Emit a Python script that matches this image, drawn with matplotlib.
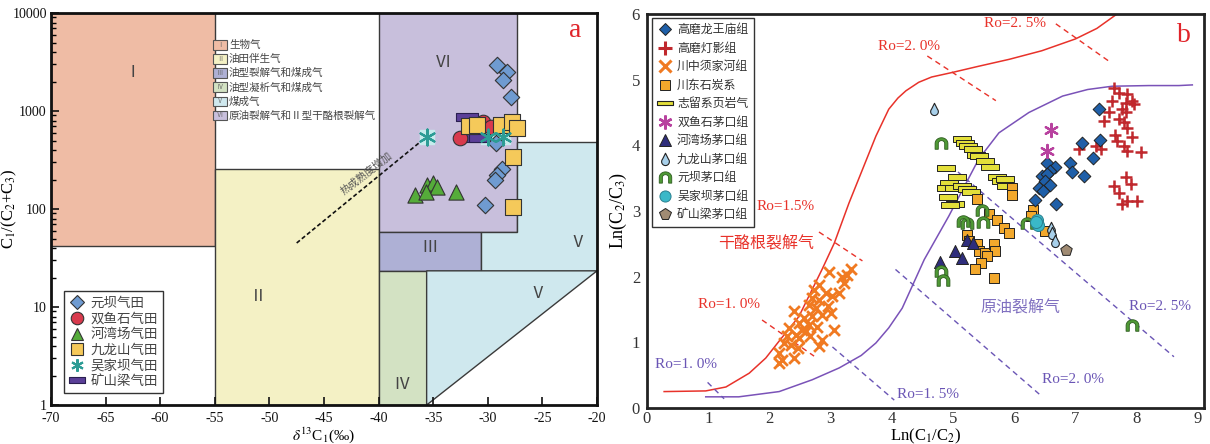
import numpy as np
import matplotlib
matplotlib.use('Agg')
import matplotlib.pyplot as plt
from matplotlib.patches import Polygon, Rectangle
from matplotlib.path import Path
from matplotlib.lines import Line2D

plt.rcParams['font.family'] = ['Liberation Serif', 'Noto Sans CJK SC', 'DejaVu Sans']
plt.rcParams['mathtext.fontset'] = 'stix'

# ---------------- Panel a data ----------------
xa_ticks = [-70, -65, -60, -55, -50, -45, -40, -35, -30, -25, -20]
ya_ticks = [1, 10, 100, 1000, 10000]

yb_x = [-29.2, -28.27, -28.6, -27.9, -29.25, -28.73, -29.13, -29.34, -30.26]
yb_y = [2945, 2518, 2072, 1400, 471, 254, 222, 198, 110]
sys_x = [-30.47, -32.55, -29.7]
sys_y = [778, 530, 692]
hwc_x = [-36.67, -35.6, -35.0, -34.68, -32.9, -35.66]
hwc_y = [139, 176, 183, 169, 150, 150]
jls_x = [-31.7, -30.96, -28.82, -27.8, -27.35, -27.72, -27.72]
jls_y = [703, 719, 719, 778, 676, 337, 105]
wjb_x = [-35.6, -29.95, -28.58]
wjb_y = [547, 540, 540]
ksl_x = [-31.93, -31.3, -30.7]
ksl_y = [862, 526, 526]

# region boundaries (x: d13C1, y: C1/(C2+C3))
reg_I = [(-70, 42), (-55, 42), (-55, 10000), (-70, 10000)]
reg_II = [(-55, 1), (-40, 1), (-40, 255), (-55, 255)]
reg_VI = [(-40, 58), (-27.3, 58), (-27.3, 10000), (-40, 10000)]
reg_III = [(-40, 23.4), (-30.6, 23.4), (-30.6, 58), (-40, 58)]
reg_IV = [(-40, 1), (-35.6, 1), (-35.6, 23.4), (-40, 23.4)]
reg_V1 = [(-30.6, 23.4), (-20, 23.4), (-20, 480), (-27.3, 480), (-27.3, 58), (-30.6, 58)]
reg_V2 = [(-35.6, 1), (-20, 23.4), (-35.6, 23.4)]
trend_x = [-47.5, -35.6]
trend_y = [45, 547]

region_names = ['Ⅰ', 'Ⅱ', 'Ⅲ', 'Ⅳ', 'Ⅴ', 'Ⅵ']
region_labels = ['生物气', '油田伴生气', '油型裂解气和煤成气', '油型凝析气和煤成气', '煤成气',
                 '原油裂解气和Ⅱ型干酪根裂解气']
region_colors = ['#efbca5', '#f4f1c5', '#aeb0d5', '#d3e2c3', '#cfe8ee', '#c8bfdc']

# ---------------- Panel b data ----------------
xb_ticks = [0, 1, 2, 3, 4, 5, 6, 7, 8, 9]
yb_ticks = [0, 1, 2, 3, 4, 5, 6]

red_cx = [0.28, 0.96, 1.29, 1.67, 1.94, 2.16, 2.48, 2.86, 3.06, 3.30, 3.52, 3.74, 3.95, 4.10, 4.23, 4.44, 4.65,
          4.99, 5.40, 5.92, 6.45, 7.0, 7.35, 7.68]
red_cy = [0.25, 0.26, 0.32, 0.53, 0.76, 1.02, 1.39, 2.11, 2.51, 3.12, 3.63, 4.14, 4.55, 4.72, 4.83, 4.96, 5.04,
          5.11, 5.20, 5.31, 5.44, 5.62, 5.78, 6.0]
pur_cx = [0.96, 1.5, 2.16, 2.70, 3.14, 3.50, 3.74, 3.95, 4.17, 4.53, 4.93, 5.20, 5.42, 5.75, 6.24, 6.79, 7.20, 7.6,
          8.2, 8.69, 8.91]
pur_cy = [0.17, 0.17, 0.25, 0.43, 0.61, 0.80, 0.99, 1.22, 1.52, 2.26, 2.92, 3.40, 3.79, 4.19, 4.50, 4.75, 4.85,
          4.90, 4.91, 4.91, 4.92]

red_ro = {'Ro=1. 0%': ([1.88, 2.73], [1.34, 0.79], (1.34, 1.57)),
          'Ro=1.5%': ([2.81, 3.52], [2.68, 2.24], (2.27, 3.07)),
          'Ro=2. 0%': ([4.58, 5.70], [5.36, 4.68], (4.28, 5.5)),
          'Ro=2. 5%': ([6.68, 7.58], [5.85, 5.26], (6.02, 5.85))}
pur_ro = {'Ro=1. 0%': ([0.99, 1.26], [0.39, 0.14], (0.63, 0.66)),
          'Ro=1. 5%': ([3.03, 4.04], [0.93, 0.12], (4.59, 0.2)),
          'Ro=2. 0%': ([4.06, 6.46], [2.11, 0.17], (6.96, 0.43)),
          'Ro=2. 5%': ([4.96, 8.61], [3.69, 0.78], (8.38, 1.55))}

lwm_x = [7.39, 7.11, 7.40, 7.29, 6.91, 6.94, 7.14, 6.54, 6.66, 6.59, 6.45, 6.54, 6.51, 6.58, 6.41, 6.47, 6.34, 6.68]
lwm_y = [4.55, 4.04, 4.08, 3.80, 3.73, 3.60, 3.54, 3.73, 3.67, 3.61, 3.53, 3.56, 3.46, 3.40, 3.35, 3.31, 3.17, 3.10]
dy_x = [7.63, 7.71, 7.85, 7.93, 7.60, 7.82, 7.96, 7.76, 7.55, 7.82, 7.47, 7.71, 7.79, 7.85, 7.65, 7.93, 7.68, 7.79,
        7.85, 8.07, 7.33, 7.41, 7.06, 7.82, 7.90, 7.63, 7.71, 7.85, 8.01, 7.76]
dy_y = [4.88, 4.80, 4.78, 4.68, 4.68, 4.65, 4.63, 4.55, 4.50, 4.50, 4.37, 4.40, 4.35, 4.27, 4.15, 4.12, 4.07, 3.99,
        3.92, 3.90, 3.99, 3.94, 3.95, 3.51, 3.41, 3.38, 3.28, 3.15, 3.15, 3.10]
xj_x = [3.34, 3.27, 3.19, 2.98, 3.22, 3.14, 3.03, 2.92, 2.81, 2.70, 2.65, 2.76, 2.95, 3.00, 2.86, 2.70, 2.57, 2.40,
        2.48, 2.65, 2.78, 3.05, 2.59, 2.43, 2.29, 2.48, 2.67, 2.86, 2.81, 2.24, 2.35, 2.46, 2.16, 2.40, 2.16, 2.53,
        2.32, 2.73, 2.81, 2.21]
xj_y = [2.11, 2.03, 2.00, 2.07, 1.90, 1.75, 1.70, 1.75, 1.65, 1.67, 1.57, 1.52, 1.55, 1.45, 1.42, 1.40, 1.37, 1.47,
        1.29, 1.27, 1.24, 1.19, 1.17, 1.11, 1.09, 1.06, 1.09, 1.04, 0.94, 0.99, 0.96, 0.91, 0.84, 0.76, 0.68, 1.19,
        1.22, 1.80, 1.88, 0.73]
cd_x = [5.96, 5.97, 5.40, 5.59, 5.72, 5.83, 5.92, 5.23, 5.40, 5.42, 5.53, 5.67, 5.69, 5.56, 5.45, 5.36, 5.67, 6.30,
        6.27, 6.50, 5.26]
cd_y = [3.35, 3.25, 3.18, 2.96, 2.87, 2.74, 2.67, 2.64, 2.49, 2.39, 2.36, 2.49, 2.39, 2.31, 2.21, 2.11, 1.98, 3.01,
        2.92, 2.69, 2.54]
zl_x = [5.14, 5.20, 5.25, 5.32, 5.38, 5.42, 5.52, 5.60, 4.88, 5.07, 4.93, 5.72, 5.78, 5.85, 5.86, 4.88, 5.02, 5.15,
        5.23, 5.29, 4.92, 5.03, 4.95]
zl_y = [4.09, 4.04, 3.99, 3.94, 3.86, 3.83, 3.76, 3.67, 3.66, 3.51, 3.42, 3.51, 3.46, 3.48, 3.38, 3.35, 3.35, 3.38,
        3.33, 3.29, 3.22, 3.11, 3.09]
sysm_x = [6.60, 6.53]
sysm_y = [4.24, 3.91]
hwcm_x = [4.79, 5.04, 5.14, 5.23, 5.33]
hwcm_y = [2.23, 2.39, 2.28, 2.56, 2.51]
jlsm_x = [4.69, 6.60, 6.62, 6.67]
jlsm_y = [4.55, 2.74, 2.67, 2.54]
ybm_x = [4.80, 5.23, 5.17, 5.48, 5.49, 6.21, 4.80, 4.84, 7.93]
ybm_y = [4.04, 2.82, 2.85, 3.02, 2.83, 2.82, 2.08, 1.95, 1.27]
wjbm_x = [6.38, 6.39, 6.35]
wjbm_y = [2.87, 2.78, 2.83]
kslm_x = [6.85]
kslm_y = [2.41]

# ---------------- custom markers ----------------
bar_marker = Path([(-1, -0.32), (1, -0.32), (1, 0.32), (-1, 0.32), (-1, -0.32)],
                  [Path.MOVETO, Path.LINETO, Path.LINETO, Path.LINETO, Path.CLOSEPOLY])
ang = np.radians(np.linspace(40, -220, 40))
drop_v = [(0, 1.0)] + [(0.62 * np.cos(a), -0.35 + 0.62 * np.sin(a)) for a in ang] + [(0, 1.0)]
drop_marker = Path(drop_v, [Path.MOVETO] + [Path.LINETO] * (len(drop_v) - 2) + [Path.CLOSEPOLY])
ao = np.radians(np.linspace(0, 180, 25))
ai = np.radians(np.linspace(180, 0, 25))
arch_v = [(1, -0.9)] + [(np.cos(a), np.sin(a) * 0.9) for a in ao] + [(-1, -0.9), (-0.5, -0.9)] + \
         [(0.5 * np.cos(a), 0.45 * np.sin(a)) for a in ai] + [(0.5, -0.9), (1, -0.9)]
arch_marker = Path(arch_v, [Path.MOVETO] + [Path.LINETO] * (len(arch_v) - 2) + [Path.CLOSEPOLY])

fig = plt.figure(figsize=(12.1, 4.44), dpi=100)
axa = fig.add_axes([0.0421, 0.0878, 0.4513, 0.8829])
axb = fig.add_axes([0.5347, 0.0811, 0.4603, 0.8874])

# ================= Panel a =================
axa.set_yscale('log')
axa.set_xlim(-70, -20)
axa.set_ylim(1, 10000)
edge = '#3a3a3a'
for verts, c in [(reg_I, region_colors[0]), (reg_II, region_colors[1]), (reg_VI, region_colors[5]),
                 (reg_III, region_colors[2]), (reg_IV, region_colors[3]), (reg_V1, region_colors[4]),
                 (reg_V2, region_colors[4])]:
    axa.add_patch(Polygon(verts, closed=True, facecolor=c, edgecolor=edge, linewidth=1.0, zorder=1))

for txt, (x, y) in [('Ⅰ', (-62.5, 2450)), ('Ⅱ', (-51, 12.6)), ('Ⅲ', (-35.3, 40)), ('Ⅳ', (-37.9, 1.6)),
                    ('Ⅴ', (-21.8, 45)), ('Ⅴ', (-25.4, 13.5)), ('Ⅵ', (-34.1, 3100))]:
    axa.text(x, y, txt, fontsize=12, color='#444444', ha='center', va='center', zorder=2,
             family=['Liberation Serif', 'Noto Sans CJK SC'])

axa.plot(trend_x, trend_y, color='#111111', linestyle=(0, (2.5, 1.5)), linewidth=1.2, zorder=3)
axa.text(-41.1, 233, '热成熟度增加', rotation=38, fontsize=7.5, color='#555555', ha='center', va='center',
         zorder=3, family=['Noto Sans CJK SC'])

# region legend
for i, (nm, lab, c) in enumerate(zip(region_names, region_labels, region_colors)):
    ypx = 45 + i * 14.1
    yax = (405 - ypx) / 392
    axa.add_patch(Rectangle((0.297, yax - 0.0125), 0.0245, 0.025, transform=axa.transAxes,
                            facecolor=c, edgecolor='#555555', linewidth=0.8, zorder=4))
    axa.text(0.297 + 0.01225, yax, nm, transform=axa.transAxes, fontsize=4.5, color='#666666',
             ha='center', va='center', zorder=5)
    axa.text(0.326, yax, lab, transform=axa.transAxes, fontsize=7.6, color='#444444',
             ha='left', va='center', zorder=5, family=['Noto Sans CJK SC', 'DejaVu Sans'])

axa.scatter(wjb_x, wjb_y, marker='s', s=110, color='#c6ecec', zorder=5)
axa.scatter(ksl_x, ksl_y, marker=bar_marker, s=260, facecolor='#5b3f98', edgecolor='#2a1f50', linewidth=0.8,
            zorder=6)
axa.scatter(yb_x, yb_y, marker='D', s=70, facecolor='#6f9bd1', edgecolor='#333333', linewidth=0.8, zorder=6)
axa.scatter(sys_x, sys_y, marker='o', s=110, facecolor='#d83a4d', edgecolor='#333333', linewidth=0.8, zorder=6)
axa.scatter(hwc_x, hwc_y, marker='^', s=120, facecolor='#55ac3a', edgecolor='#333333', linewidth=0.8, zorder=6)
axa.scatter(jls_x, jls_y, marker='s', s=120, facecolor='#f5c95a', edgecolor='#333333', linewidth=0.8, zorder=7)
axa.scatter(wjb_x, wjb_y, marker=(6, 2, 0), s=130, color='#2c9c95', linewidth=1.6, zorder=8)

handles_a = [
    Line2D([], [], marker='D', ls='none', ms=7, mfc='#6f9bd1', mec='#333333', mew=0.8),
    Line2D([], [], marker='o', ls='none', ms=9, mfc='#d83a4d', mec='#333333', mew=0.8),
    Line2D([], [], marker='^', ls='none', ms=9, mfc='#55ac3a', mec='#333333', mew=0.8),
    Line2D([], [], marker='s', ls='none', ms=8, mfc='#f5c95a', mec='#333333', mew=0.8),
    Line2D([], [], marker=(6, 2, 0), ls='none', ms=9, color='#2c9c95', mew=1.5),
    Line2D([], [], marker=bar_marker, ls='none', ms=12, mfc='#5b3f98', mec='#2a1f50', mew=0.8),
]
labels_a = ['元坝气田', '双鱼石气田', '河湾场气田', '九龙山气田', '吴家坝气田', '矿山梁气田']
leg_a = axa.legend(handles_a, labels_a, loc='lower left', bbox_to_anchor=(0.024, 0.031), frameon=True,
                   fancybox=False, edgecolor='#333333', framealpha=1, labelspacing=0.12,
                   handlelength=1.2, handletextpad=0.4, borderpad=0.35, borderaxespad=0,
                   prop={'family': ['Noto Sans CJK SC'], 'size': 9.7})
leg_a.get_frame().set_linewidth(1.0)
leg_a.set_zorder(10)
for t in leg_a.get_texts():
    t.set_color('#444444')

axa.set_xticks(xa_ticks)
axa.set_xticklabels([str(v) for v in xa_ticks])
axa.set_yticks(ya_ticks)
axa.set_yticklabels([str(v) for v in ya_ticks])
axa.tick_params(axis='both', which='major', direction='in', length=6, width=1.2, labelsize=10, colors='#111111')
axa.tick_params(axis='x', which='major', pad=5)
axa.tick_params(axis='y', which='major', pad=3)
axa.tick_params(axis='y', which='minor', direction='in', length=3.5, width=1.0)
axa.tick_params(axis='x', which='minor', bottom=False)
for sp in axa.spines.values():
    sp.set_linewidth(2.0)
    sp.set_color('#111111')
    sp.set_zorder(12)
axa.set_xlabel(r'$\delta^{13}$C$_1$(‰)', fontsize=11, labelpad=0)
axa.set_ylabel(r'C$_1$/(C$_2$+C$_3$)', fontsize=12)
axa.yaxis.set_label_coords(-0.058, 0.5)
axa.text(0.96, 0.955, 'a', transform=axa.transAxes, fontsize=20, color='#e0242a', ha='center', va='center',
         zorder=11)

# ================= Panel b =================
axb.set_xlim(0, 9.1)
axb.set_ylim(0, 6)
rc = '#e8322a'
pc = '#7a52b8'
axb.plot(red_cx, red_cy, color=rc, linewidth=1.1, zorder=2)
axb.plot(pur_cx, pur_cy, color=pc, linewidth=1.1, zorder=2)
for lab, (xs, ys, (tx, ty)) in red_ro.items():
    axb.plot(xs, ys, color=rc, linestyle=(0, (4, 3)), linewidth=1.0, zorder=2)
    axb.text(tx, ty, lab, color=rc, fontsize=11, ha='center', va='center', zorder=3)
for lab, (xs, ys, (tx, ty)) in pur_ro.items():
    axb.plot(xs, ys, color='#6a55b5', linestyle=(0, (4, 3)), linewidth=1.0, zorder=2)
    axb.text(tx, ty, lab, color='#6a55b5', fontsize=11, ha='center', va='center', zorder=3)
axb.text(1.95, 2.49, '干酪根裂解气', color=rc, fontsize=11.5, ha='center', va='center',
         family=['Noto Sans CJK SC'], zorder=3)
axb.text(6.11, 1.52, '原油裂解气', color='#8070c0', fontsize=11.5, ha='center', va='center',
         family=['Noto Sans CJK SC'], zorder=3)
axb.text(8.77, 5.67, 'b', color='#e0242a', fontsize=20, ha='center', va='center', zorder=3)

ek = '#222222'
axb.scatter(xj_x, xj_y, marker='x', s=60, color='#f07a22', linewidth=2.0, zorder=4)
axb.scatter(dy_x, dy_y, marker='+', s=85, color='#c0282d', linewidth=1.8, zorder=4)
axb.scatter(zl_x, zl_y, marker=bar_marker, s=150, facecolor='#e3df3a', edgecolor=ek, linewidth=0.7, zorder=5)
axb.scatter(cd_x, cd_y, marker='s', s=60, facecolor='#f2a82c', edgecolor=ek, linewidth=0.7, zorder=5)
axb.scatter(lwm_x, lwm_y, marker='D', s=42, facecolor='#1f5fa8', edgecolor=ek, linewidth=0.7, zorder=6)
axb.scatter(sysm_x, sysm_y, marker=(6, 2, 0), s=90, color='#b8429f', linewidth=1.6, zorder=6)
axb.scatter(hwcm_x, hwcm_y, marker='^', s=75, facecolor='#2e2d7c', edgecolor=ek, linewidth=0.7, zorder=6)
axb.scatter(jlsm_x, jlsm_y, marker=drop_marker, s=80, facecolor='#a8d0ea', edgecolor=ek, linewidth=0.8, zorder=6)
axb.scatter(ybm_x, ybm_y, marker=arch_marker, s=85, facecolor='#4f9a35', edgecolor='#2c5a1e', linewidth=0.6,
            zorder=6)
axb.scatter(wjbm_x, wjbm_y, marker='o', s=75, facecolor='#3ab8c8', edgecolor='#2a8090', linewidth=0.7, zorder=6)
axb.scatter(kslm_x, kslm_y, marker='p', s=75, facecolor='#a08b73', edgecolor=ek, linewidth=0.7, zorder=6)

handles_b = [
    Line2D([], [], marker='D', ls='none', ms=6.5, mfc='#1f5fa8', mec=ek, mew=0.7),
    Line2D([], [], marker='+', ls='none', ms=10, color='#c0282d', mew=2.2),
    Line2D([], [], marker='x', ls='none', ms=8, color='#f07a22', mew=2.2),
    Line2D([], [], marker='s', ls='none', ms=7.5, mfc='#f2a82c', mec=ek, mew=0.7),
    Line2D([], [], marker=bar_marker, ls='none', ms=11, mfc='#e3df3a', mec=ek, mew=0.8),
    Line2D([], [], marker=(6, 2, 0), ls='none', ms=10, color='#b8429f', mew=1.8),
    Line2D([], [], marker='^', ls='none', ms=9, mfc='#2e2d7c', mec=ek, mew=0.7),
    Line2D([], [], marker=drop_marker, ls='none', ms=9, mfc='#a8d0ea', mec=ek, mew=0.8),
    Line2D([], [], marker=arch_marker, ls='none', ms=9, mfc='#4f9a35', mec='#2c5a1e', mew=0.6),
    Line2D([], [], marker='o', ls='none', ms=8, mfc='#3ab8c8', mec='#2a8090', mew=0.7),
    Line2D([], [], marker='p', ls='none', ms=8.5, mfc='#a08b73', mec=ek, mew=0.7),
]
labels_b = ['高磨龙王庙组', '高磨灯影组', '川中须家河组', '川东石炭系', '志留系页岩气', '双鱼石茅口组',
            '河湾场茅口组', '九龙山茅口组', '元坝茅口组', '吴家坝茅口组', '矿山梁茅口组']
leg_b = axb.legend(handles_b, labels_b, loc='upper left', bbox_to_anchor=(0.009, 0.99), frameon=True,
                   fancybox=False, edgecolor='#333333', framealpha=1, labelspacing=0.46,
                   handlelength=1.2, handletextpad=0.45, borderpad=0.45, borderaxespad=0,
                   prop={'family': ['Noto Sans CJK SC'], 'size': 8.6})
leg_b.get_frame().set_linewidth(1.0)
leg_b.set_zorder(10)
for t in leg_b.get_texts():
    t.set_color('#333333')

axb.set_xticks(xb_ticks)
axb.set_yticks(yb_ticks)
axb.tick_params(axis='both', direction='in', length=0, labelsize=12, colors='#333333')
axb.tick_params(axis='x', pad=2)
axb.tick_params(axis='y', pad=5)
for sp in axb.spines.values():
    sp.set_linewidth(2.0)
    sp.set_color('#222222')
axb.set_xlabel(r'Ln(C$_1$/C$_2$)', fontsize=12, labelpad=0)
axb.set_ylabel(r'Ln(C$_2$/C$_3$)', fontsize=13, labelpad=2)

fig.savefig('out.png', dpi=100)
